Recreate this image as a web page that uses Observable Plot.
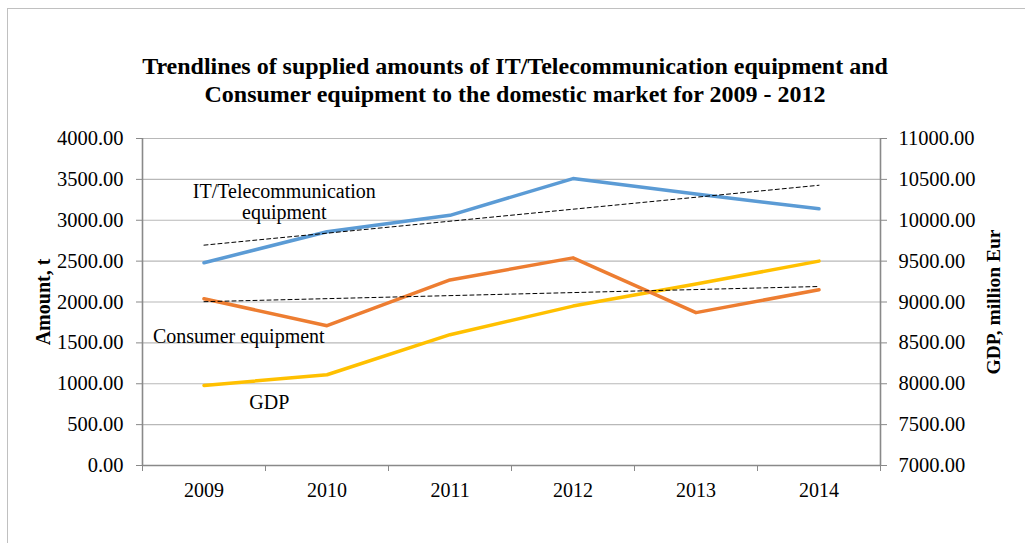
<!DOCTYPE html>
<html><head><meta charset="utf-8">
<script src="https://cdn.jsdelivr.net/npm/d3@7"></script>
<script src="https://cdn.jsdelivr.net/npm/@observablehq/plot@0.6"></script>
<style>
body{margin:0;background:#fff;}
#wrap{position:relative;width:1025px;height:543px;overflow:hidden;font-family:"Liberation Serif","Times New Roman",serif;background:#fff;}
#border{position:absolute;left:7px;top:8px;width:1100px;height:600px;border-top:1.5px solid #c0c0c0;border-left:1.5px solid #c0c0c0;}
#title{position:absolute;top:52px;left:0;width:1025px;padding-left:5px;box-sizing:border-box;text-align:center;font-weight:bold;font-size:24px;line-height:28px;color:#000;}
#chart{position:absolute;left:0;top:120px;}
</style></head>
<body>
<div id="wrap">
  <div id="border"></div>
  <div id="title">Trendlines of supplied amounts of IT/Telecommunication equipment and<br>Consumer equipment to the domestic market for 2009 - 2012</div>
  <div id="chart"></div>
</div>
<script>
const years = [2009, 2010, 2011, 2012, 2013, 2014];
const itEquipment = [2480, 2860, 3060, 3510, 3320, 3140];
const consumerEquipment = [2040, 1710, 2270, 2540, 1870, 2150];
const gdp = [7980, 8110, 8600, 8950, 9220, 9500];
const leftTicks = [0, 500, 1000, 1500, 2000, 2500, 3000, 3500, 4000];
const rightTicks = [7000, 7500, 8000, 8500, 9000, 9500, 10000, 10500, 11000];
const leftDomain = [0, 4000];
const rightDomain = [7000, 11000];
const seriesLabels = [
  {x: 2009.653, y: 3229, text: "IT/Telecommunication\nequipment"},
  {x: 2009.283, y: 1578, text: "Consumer equipment"},
  {x: 2009.531, y: 777, text: "GDP"}
];

// map right-axis (GDP) values onto the left scale
const toLeft = v => leftDomain[0] + (v - rightDomain[0]) * (leftDomain[1] - leftDomain[0]) / (rightDomain[1] - rightDomain[0]);
const xDomain = [years[0] - 0.5, years[years.length - 1] + 0.5];
const boundaries = years.map(y => y - 0.5).concat([years[years.length - 1] + 0.5]);

const itData = years.map((y, i) => ({year: y, value: itEquipment[i]}));
const consData = years.map((y, i) => ({year: y, value: consumerEquipment[i]}));
const gdpData = years.map((y, i) => ({year: y, value: toLeft(gdp[i])}));

const font = '"Liberation Serif","Times New Roman",serif';
const axisColor = "#898989";
const gridColor = "#b8b8b8";

const chart = Plot.plot({
  width: 1025,
  height: 423,
  marginTop: 18,
  marginBottom: 78,
  marginLeft: 142,
  marginRight: 145,
  style: {fontFamily: font, fontSize: "20.5px", color: "#000", background: "transparent"},
  x: {type: "linear", domain: xDomain, axis: null},
  y: {type: "linear", domain: leftDomain, axis: null},
  marks: [
    Plot.ruleY(leftTicks.filter(d => d !== leftDomain[0]), {stroke: gridColor, strokeWidth: 1.2}),
    Plot.axisY({anchor: "left", ticks: leftTicks, tickFormat: d => d.toFixed(2), tickSize: 6, tickPadding: 13, stroke: axisColor, fontSize: 20.5}),
    Plot.axisY({anchor: "right", ticks: rightTicks.map(toLeft), tickFormat: d => (rightDomain[0] + d).toFixed(2), tickSize: 6, tickPadding: 12, stroke: axisColor, fontSize: 20.5}),
    Plot.axisX({anchor: "bottom", ticks: years, tickFormat: d => String(d), tickSize: 0, tickPadding: 17, fontSize: 20}),
    Plot.axisX({anchor: "bottom", ticks: boundaries, tickFormat: () => "", tickSize: 6, stroke: axisColor}),
    Plot.ruleX(xDomain, {stroke: axisColor, strokeWidth: 1.6}),
    Plot.ruleY([leftDomain[0]], {stroke: axisColor, strokeWidth: 1.6}),
    Plot.line(gdpData, {x: "year", y: "value", stroke: "#FFC000", strokeWidth: 3.5}),
    Plot.line(consData, {x: "year", y: "value", stroke: "#ED7D31", strokeWidth: 3.5}),
    Plot.line(itData, {x: "year", y: "value", stroke: "#5B9BD5", strokeWidth: 3.5}),
    Plot.linearRegressionY(itData, {x: "year", y: "value", stroke: "#000", strokeWidth: 1, strokeDasharray: "4,3", ci: 0}),
    Plot.linearRegressionY(consData, {x: "year", y: "value", stroke: "#000", strokeWidth: 1, strokeDasharray: "4,3", ci: 0}),
    Plot.text(seriesLabels, {x: "x", y: "y", text: "text", fontSize: 20, lineHeight: 1.05, fill: "#000"}),
    Plot.text([0], {frameAnchor: "left", dx: -99, rotate: -90, textAnchor: "middle", text: () => "Amount, t", fontWeight: "bold", fontSize: 20, fill: "#000"}),
    Plot.text([0], {frameAnchor: "right", dx: 113, rotate: -90, textAnchor: "middle", text: () => "GDP, million Eur", fontWeight: "bold", fontSize: 19.5, fill: "#000"})
  ]
});
document.getElementById("chart").appendChild(chart);
</script>
</body></html>
